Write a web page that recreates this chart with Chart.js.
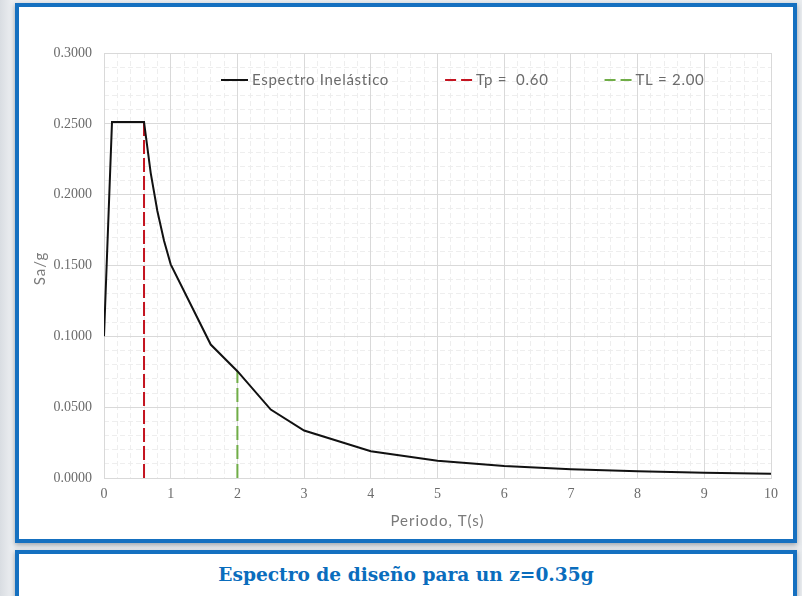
<!DOCTYPE html>
<html lang="es">
<head>
<meta charset="utf-8">
<script src="https://cdn.jsdelivr.net/npm/chart.js@4.4.1/dist/chart.umd.min.js"></script>
<style>
  html, body { margin: 0; padding: 0; }
  body {
    width: 802px; height: 596px; overflow: hidden; position: relative;
    background: linear-gradient(to right, #d9dde2 0px, #eceef1 12px, #e9ecef 100%);
  }
  .panel {
    position: absolute; left: 15px; width: 774px;
    border: 4px solid #1570c0; background: #fff;
    box-shadow: 0 2px 5px rgba(60,70,85,0.45);
  }
  #top { top: 3px; height: 532px; }
  #bottom { top: 550px; height: 60px; }
  #caption {
    position: absolute; left: 19px; width: 774px; top: 564px;
    text-align: center; color: #0a6dbd;
    font: bold 18.6px "DejaVu Serif", serif;
  }
  #wrap { position: absolute; left: 0; top: 0; width: 802px; height: 596px; }
</style>
</head>
<body>
<div class="panel" id="top"></div>
<div class="panel" id="bottom"></div>
<div id="caption">Espectro de diseño para un z=0.35g</div>
<div id="wrap"><canvas id="c" width="802" height="596"></canvas></div>
<script>
// Periodo T (s) and spectral acceleration Sa/g of the inelastic design spectrum
const periods = [0, 0.12, 0.6, 0.7, 0.8, 0.9, 1.0, 1.6, 2.0, 2.5, 3, 4, 5, 6, 7, 8, 9, 10];
const saValues = [0.1000, 0.2513, 0.2513, 0.2154, 0.1885, 0.1675, 0.1508, 0.0942, 0.0754,
                  0.0483, 0.0335, 0.0189, 0.0121, 0.0084, 0.0062, 0.0047, 0.0037, 0.0030];

// Marker lines for Tp and TL
const tpPeriod = 0.60;
const tpTop = 0.2513;
const tlPeriod = 2.00;
const tlTop = 0.0754;

const seriesLabels = ['Espectro Inelástico', 'Tp =  0.60', 'TL = 2.00'];
const xTitle = 'Periodo, T(s)';
const yTitle = 'Sa/g';

// Axis ranges and tick steps
const xRange = [0, 10];
const xStep = 1;
const xMinorStep = 0.2;
const yRange = [0, 0.3];
const yStep = 0.05;
const yMinorStep = 0.01;

const tickFont = { family: '"Liberation Serif", serif', size: 14 };
const labelFont = { family: 'Lato, sans-serif', size: 15 };
const textGray = '#6b6b6b';
const titleGray = '#7a7a7a';

const spectrum = periods.map((t, i) => ({ x: t, y: saValues[i] }));

// Legend row inside the plot area and the two axis titles, drawn with letter spacing
const annotations = {
  id: 'annotations',
  afterDraw(chart) {
    const { ctx, chartArea } = chart;
    const sample = 27, gapText = 4, gapItem = 56;
    let x = chartArea.left + 117;
    const y = chartArea.top + 27;
    ctx.save();
    ctx.font = `${labelFont.size}px ${labelFont.family}`;
    ctx.textBaseline = 'middle';
    ctx.letterSpacing = '0.7px';
    chart.data.datasets.forEach(ds => {
      ctx.beginPath();
      ctx.strokeStyle = ds.borderColor;
      ctx.lineWidth = 2;
      ctx.setLineDash(ds.legendDash || []);
      ctx.moveTo(x, y);
      ctx.lineTo(x + sample, y);
      ctx.stroke();
      ctx.setLineDash([]);
      x += sample + gapText;
      ctx.fillStyle = textGray;
      ctx.fillText(ds.label, x, y);
      x += ctx.measureText(ds.label).width + gapItem;
    });

    // Axis titles
    ctx.letterSpacing = '1px';
    ctx.fillStyle = titleGray;
    ctx.textAlign = 'center';
    const xs = chart.scales.x;
    ctx.fillText(xTitle, (chartArea.left + chartArea.right) / 2, xs.bottom - 17);
    const ys = chart.scales.y;
    ctx.translate(ys.left + 13, (chartArea.top + chartArea.bottom) / 2 + 3);
    ctx.rotate(-Math.PI / 2);
    ctx.fillText(yTitle, 0, 0);
    ctx.restore();
  }
};

new Chart(document.getElementById('c'), {
  type: 'scatter',
  data: {
    datasets: [
      {
        label: seriesLabels[0],
        data: spectrum,
        showLine: true,
        borderColor: '#111111',
        borderWidth: 2,
        pointRadius: 0,
        order: 0
      },
      {
        label: seriesLabels[1],
        data: [{ x: tpPeriod, y: 0 }, { x: tpPeriod, y: tpTop }],
        showLine: true,
        borderColor: '#c41420',
        borderWidth: 2,
        borderDash: [14, 4],
        legendDash: [11, 5],
        pointRadius: 0,
        order: 1
      },
      {
        label: seriesLabels[2],
        data: [{ x: tlPeriod, y: 0 }, { x: tlPeriod, y: tlTop }],
        showLine: true,
        borderColor: '#70ad47',
        borderWidth: 2,
        borderDash: [14, 5],
        legendDash: [11, 5],
        pointRadius: 0,
        order: 2
      }
    ]
  },
  options: {
    responsive: false,
    animation: false,
    layout: { padding: { left: 27, right: 31, top: 53, bottom: 58 } },
    plugins: { legend: { display: false }, tooltip: { enabled: false } },
    scales: {
      xm: {
        type: 'linear', position: 'bottom', min: xRange[0], max: xRange[1],
        ticks: { display: false, stepSize: xMinorStep },
        grid: { color: '#eeeeee', drawTicks: false },
        border: { display: false, dash: [5, 3] },
        afterFit: s => { s.height = 0; }
      },
      ym: {
        type: 'linear', position: 'left', min: yRange[0], max: yRange[1],
        ticks: { display: false, stepSize: yMinorStep },
        grid: { color: '#eeeeee', drawTicks: false },
        border: { display: false, dash: [5, 3] },
        afterFit: s => { s.width = 0; }
      },
      x: {
        type: 'linear', position: 'bottom', min: xRange[0], max: xRange[1],
        ticks: { stepSize: xStep, padding: 8, color: textGray, font: tickFont, maxRotation: 0 },
        grid: { color: '#d9d9d9', drawTicks: false },
        border: { color: '#d9d9d9' },
        afterFit: s => { s.height = 60; }
      },
      y: {
        type: 'linear', position: 'left', min: yRange[0], max: yRange[1],
        ticks: { stepSize: yStep, padding: 12, color: textGray, font: tickFont,
                 callback: v => v.toFixed(4) },
        grid: { color: '#d9d9d9', drawTicks: false },
        border: { color: '#d9d9d9' },
        afterFit: s => { s.width = 77; }
      }
    }
  },
  plugins: [annotations]
});
</script>
</body>
</html>
